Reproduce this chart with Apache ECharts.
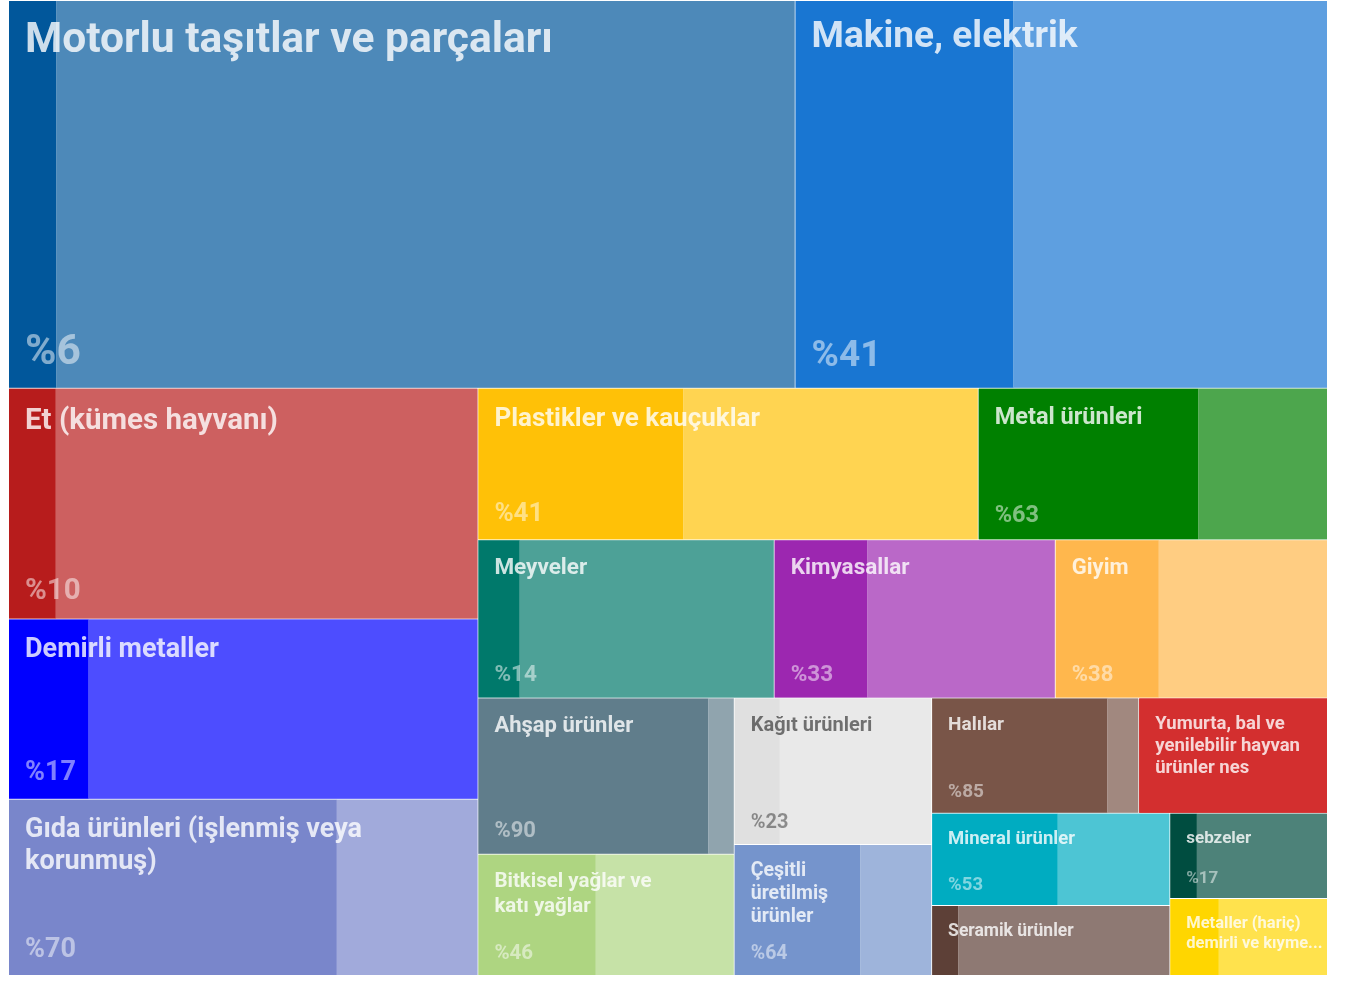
<!DOCTYPE html>
<html>
<head>
<meta charset="utf-8">
<script src="https://cdn.jsdelivr.net/npm/echarts@6/dist/echarts.min.js"></script>
<style>
  html, body { margin: 0; padding: 0; background: #fff; }
  #chart { width: 1350px; height: 981px; }
</style>
</head>
<body>
<div id="chart"></div>
<script>
// names carry the line breaks (and the cut) used in the original tiles
const categories = [
  "Motorlu taşıtlar ve parçaları", "Makine, elektrik", "Et (kümes hayvanı)", "Demirli metaller",
  "Gıda ürünleri (işlenmiş veya\nkorunmuş)", "Plastikler ve kauçuklar", "Metal ürünleri", "Meyveler",
  "Kimyasallar", "Giyim", "Ahşap ürünler", "Bitkisel yağlar ve\nkatı yağlar", "Kağıt ürünleri",
  "Çeşitli\nüretilmiş\nürünler", "Halılar", "Yumurta, bal ve\nyenilebilir hayvan\nürünler nes",
  "Mineral ürünler", "Seramik ürünler", "sebzeler", "Metaller (hariç)\ndemirli ve kıyme..."
];
const values = [304.2, 205.9, 107.9, 84.4, 82.5, 75.5, 52.7, 46.8, 44.4, 43.0,
  39.9, 31.0, 28.8, 25.8, 23.8, 21.7, 21.9, 16.6, 13.4, 12.1];
// share (%) of each category drawn as the darker strip on the left
const shares = [6, 41, 10, 17, 70, 41, 63, 14, 33, 38, 90, 46, 23, 64, 85, null, 53, 11, 17, 31];
const colors = ["#01579B", "#1976D2", "#B71C1C", "#0000FF", "#7986CB", "#FFC107", "#008000", "#00796B",
  "#9C27B0", "#FFB74D", "#607D8B", "#AED581", "#E0E0E0", "#7594CC", "#795548", "#D32F2F",
  "#00ACC1", "#5D4037", "#004D40", "#FFD600"];

// grouping of the tiles: split = cut across the long side, stack = cut along it
const split = (...k) => ({ split: true, k });
const stack = (...k) => ({ split: false, k });
const tiling = stack(
  split(0, 1),
  split(
    split(2, stack(3, 4)),
    stack(split(5, 6), stack(split(7, 8, 9),
      split(split(10, 11), split(12, 13), stack(split(14, 15), split(stack(16, 17), split(18, 19))))))
  )
);

const BOX = { left: 9, top: 1, width: 1318, height: 974 };
const total = values.reduce((a, b) => a + b, 0);
const fontFor = (v) => Math.round((9.95 + 0.0591 * Math.sqrt((v / total) * BOX.width * BOX.height)) * 2) / 2;
const rgb = (hex) => { const n = parseInt(hex.slice(1), 16); return [n >> 16, (n >> 8) & 255, n & 255]; };
const tint = (hex, a) => "rgb(" + rgb(hex).map((c) => Math.round(c + (255 - c) * a)).join(",") + ")";
const isLight = (hex) => { const [r, g, b] = rgb(hex); return 0.299 * r + 0.587 * g + 0.114 * b > 215; };
const CLEAR = "rgba(0,0,0,0)";

const spacer = () => ({ name: "", value: 1e-6, itemStyle: { color: CLEAR, borderWidth: 0 }, label: { show: false } });

function build(t, leaf) {
  if (typeof t === "number") return leaf(t);
  const children = [];
  t.k.forEach((c, j) => {
    if (t.split && j > 0) children.push(spacer());
    children.push(build(c, leaf));
  });
  return { name: "", children };
}

const fillLeaf = (i) => {
  const s = shares[i] == null ? 100 : shares[i];
  const node = { name: categories[i], value: values[i], itemStyle: { gapWidth: 0, color: colors[i], borderColor: colors[i] } };
  if (s < 100) {
    node.children = [
      { name: "", value: (values[i] * s) / 100, itemStyle: { color: colors[i] } },
      spacer(),
      { name: "", value: (values[i] * (100 - s)) / 100, itemStyle: { color: tint(colors[i], 0.3) } },
    ];
  }
  return node;
};

const textLeaf = (text, i, alphaLight, alphaDark) => {
  const fs = fontFor(values[i]);
  return {
    name: text, value: values[i], itemStyle: { color: CLEAR },
    label: {
      fontSize: fs, lineHeight: Math.round(fs * 1.2),
      color: isLight(colors[i]) ? "rgba(0,0,0," + alphaDark + ")" : "rgba(255,255,255," + alphaLight + ")",
    },
  };
};
const nameLeaf = (i) => textLeaf(categories[i], i, 0.8, 0.52);
const pctLeaf = (i) => textLeaf(shares[i] == null ? "" : "%" + shares[i], i, 0.5, 0.4);

const base = {
  type: "treemap", ...BOX,
  sort: false, squareRatio: 2.5, roam: false, nodeClick: false, silent: true,
  breadcrumb: { show: false },
  emphasis: { disabled: true },
};
const textLabel = {
  show: true, position: "insideTopLeft", distance: 0, padding: [15, 8, 12, 16],
  fontFamily: "Roboto", fontWeight: "bold", overflow: "none",
};

const chart = echarts.init(document.getElementById("chart"));
chart.setOption({
  animation: false,
  series: [
    {
      ...base, z: 1,
      itemStyle: { gapWidth: 1, borderWidth: 0, borderColor: "#ffffff" },
      label: { show: false },
      data: build(tiling, fillLeaf).children,
    },
    {
      ...base, z: 2,
      itemStyle: { gapWidth: 1, borderWidth: 0, borderColor: CLEAR, color: CLEAR },
      label: textLabel,
      data: build(tiling, nameLeaf).children,
    },
    {
      ...base, z: 3,
      itemStyle: { gapWidth: 1, borderWidth: 0, borderColor: CLEAR, color: CLEAR },
      label: { ...textLabel, padding: [12, 8, 9, 16] },
      // move the share to the bottom of its cell, drop it where the cell is too short
      labelLayout: (p) => {
        if (p.rect.height < 80) return { x: -9999 };
        return { dy: p.rect.height - p.labelRect.height };
      },
      data: build(tiling, pctLeaf).children,
    },
  ],
});
</script>
</body>
</html>
